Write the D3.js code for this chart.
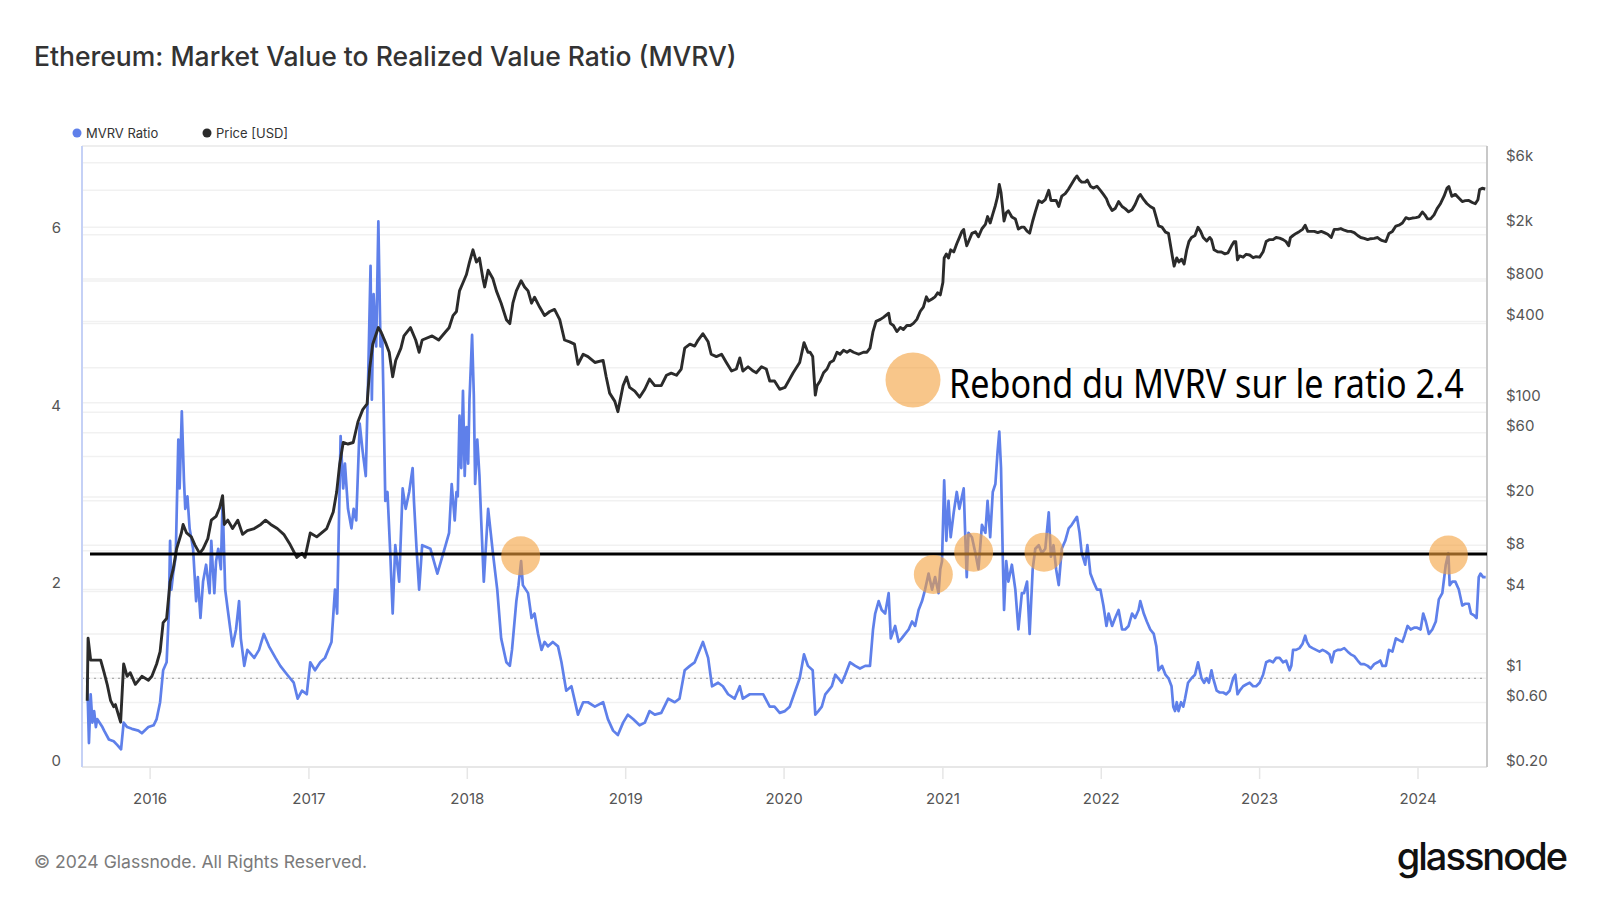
<!DOCTYPE html>
<html lang="en">
<head>
  <meta charset="UTF-8" />
  <title>Ethereum: Market Value to Realized Value Ratio (MVRV)</title>
  <script src="https://d3js.org/d3.v7.min.js"></script>
  <style>
    body {
      margin: 0;
      background: #fff;
      font-family: Inter, 'Noto Sans', sans-serif;
    }
    .tick-label {
      fill: #555;
      font-size: 15px;
    }
  </style>
</head>
<body>
<script>
  // MVRV ratio
  const mvrvSeries = [
    ["2015-08-09", 1.00], ["2015-08-13", 0.27], ["2015-08-17", 0.82], ["2015-08-21", 0.50], ["2015-08-25", 0.63],
    ["2015-08-29", 0.45], ["2015-09-01", 0.54], ["2015-09-13", 0.45], ["2015-09-17", 0.41], ["2015-09-28", 0.31],
    ["2015-10-09", 0.29], ["2015-10-17", 0.25], ["2015-10-26", 0.20], ["2015-11-01", 0.50], ["2015-11-09", 0.45],
    ["2015-11-20", 0.43], ["2015-12-05", 0.41], ["2015-12-13", 0.38], ["2015-12-28", 0.45], ["2016-01-09", 0.47],
    ["2016-01-16", 0.54], ["2016-01-24", 0.73], ["2016-01-31", 1.09], ["2016-02-08", 1.18], ["2016-02-13", 1.73],
    ["2016-02-16", 2.55], ["2016-02-19", 2.00], ["2016-02-23", 2.18], ["2016-02-29", 2.37], ["2016-03-06", 3.69],
    ["2016-03-09", 3.14], ["2016-03-14", 4.01], ["2016-03-19", 3.23], ["2016-03-22", 2.91], ["2016-03-27", 3.05],
    ["2016-04-01", 2.69], ["2016-04-09", 2.46], ["2016-04-16", 1.87], ["2016-04-20", 2.14], ["2016-04-26", 1.68],
    ["2016-05-02", 2.09], ["2016-05-09", 2.28], ["2016-05-17", 1.96], ["2016-05-21", 2.55], ["2016-05-24", 2.28],
    ["2016-05-28", 1.96], ["2016-06-01", 2.32], ["2016-06-06", 2.46], ["2016-06-12", 2.23], ["2016-06-16", 3.00],
    ["2016-06-22", 2.00], ["2016-06-28", 1.77], ["2016-07-09", 1.36], ["2016-07-17", 1.55], ["2016-07-24", 1.87],
    ["2016-07-28", 1.45], ["2016-08-05", 1.14], ["2016-08-12", 1.32], ["2016-08-28", 1.23], ["2016-09-08", 1.32],
    ["2016-09-19", 1.50], ["2016-10-01", 1.36], ["2016-10-16", 1.23], ["2016-10-27", 1.14], ["2016-11-12", 1.04],
    ["2016-11-27", 0.95], ["2016-12-06", 0.77], ["2016-12-16", 0.86], ["2016-12-27", 0.82], ["2017-01-04", 1.18],
    ["2017-01-15", 1.09], ["2017-01-27", 1.18], ["2017-02-07", 1.23], ["2017-02-22", 1.41], ["2017-03-02", 2.00],
    ["2017-03-07", 1.73], ["2017-03-15", 3.73], ["2017-03-21", 3.14], ["2017-03-25", 3.42], ["2017-04-01", 2.91],
    ["2017-04-09", 2.69], ["2017-04-14", 2.91], ["2017-04-20", 2.78], ["2017-04-28", 3.87], ["2017-05-05", 3.55],
    ["2017-05-12", 3.28], ["2017-05-17", 4.28], ["2017-05-23", 5.65], ["2017-05-26", 4.14], ["2017-05-30", 5.33],
    ["2017-06-05", 4.74], ["2017-06-10", 6.15], ["2017-06-15", 4.74], ["2017-06-19", 4.87], ["2017-06-22", 4.10],
    ["2017-06-26", 3.00], ["2017-07-01", 3.10], ["2017-07-07", 2.46], ["2017-07-13", 1.73], ["2017-07-19", 2.50],
    ["2017-07-28", 2.09], ["2017-08-05", 3.14], ["2017-08-12", 2.91], ["2017-08-20", 3.10], ["2017-08-28", 3.37],
    ["2017-08-31", 3.00], ["2017-09-06", 2.46], ["2017-09-12", 2.00], ["2017-09-19", 2.50], ["2017-10-08", 2.46],
    ["2017-10-24", 2.18], ["2017-11-12", 2.50], ["2017-11-20", 2.64], ["2017-11-26", 3.19], ["2017-12-03", 2.78],
    ["2017-12-07", 3.10], ["2017-12-10", 3.05], ["2017-12-14", 3.96], ["2017-12-18", 3.37], ["2017-12-22", 4.24],
    ["2017-12-26", 3.28], ["2017-12-30", 3.83], ["2018-01-03", 3.42], ["2018-01-06", 4.14], ["2018-01-12", 4.87],
    ["2018-01-16", 4.19], ["2018-01-19", 3.19], ["2018-01-24", 3.69], ["2018-01-29", 3.28], ["2018-02-02", 2.78],
    ["2018-02-08", 2.09], ["2018-02-18", 2.91], ["2018-02-24", 2.64], ["2018-03-01", 2.41], ["2018-03-11", 2.00],
    ["2018-03-20", 1.45], ["2018-04-01", 1.18], ["2018-04-09", 1.14], ["2018-04-14", 1.32], ["2018-04-24", 1.87],
    ["2018-04-29", 2.05], ["2018-05-05", 2.32], ["2018-05-09", 2.05], ["2018-05-21", 1.96], ["2018-05-29", 1.68],
    ["2018-06-05", 1.73], ["2018-06-13", 1.50], ["2018-06-21", 1.32], ["2018-06-28", 1.41], ["2018-07-06", 1.36],
    ["2018-07-17", 1.41], ["2018-07-29", 1.36], ["2018-08-06", 1.18], ["2018-08-17", 0.86], ["2018-08-29", 0.91],
    ["2018-09-13", 0.59], ["2018-09-25", 0.73], ["2018-10-06", 0.73], ["2018-10-22", 0.68], ["2018-11-10", 0.73],
    ["2018-11-21", 0.54], ["2018-12-03", 0.41], ["2018-12-14", 0.36], ["2018-12-26", 0.50], ["2019-01-06", 0.59],
    ["2019-01-18", 0.54], ["2019-02-02", 0.47], ["2019-02-14", 0.50], ["2019-02-25", 0.63], ["2019-03-09", 0.59],
    ["2019-03-24", 0.61], ["2019-04-09", 0.77], ["2019-04-24", 0.73], ["2019-05-05", 0.77], ["2019-05-17", 1.09],
    ["2019-05-29", 1.14], ["2019-06-09", 1.18], ["2019-06-28", 1.41], ["2019-07-10", 1.23], ["2019-07-19", 0.91],
    ["2019-08-02", 0.95], ["2019-08-13", 0.91], ["2019-08-25", 0.82], ["2019-09-09", 0.77], ["2019-09-21", 0.91],
    ["2019-09-28", 0.77], ["2019-10-14", 0.82], ["2019-10-29", 0.82], ["2019-11-14", 0.82], ["2019-11-29", 0.68],
    ["2019-12-10", 0.68], ["2019-12-22", 0.61], ["2020-01-03", 0.63], ["2020-01-14", 0.68], ["2020-01-24", 0.82],
    ["2020-02-06", 1.00], ["2020-02-16", 1.27], ["2020-02-25", 1.14], ["2020-03-07", 1.09], ["2020-03-13", 0.59],
    ["2020-03-20", 0.63], ["2020-03-28", 0.68], ["2020-04-05", 0.82], ["2020-04-12", 0.86], ["2020-04-20", 0.91],
    ["2020-04-28", 1.04], ["2020-05-05", 1.00], ["2020-05-13", 0.95], ["2020-05-21", 1.04], ["2020-06-01", 1.18],
    ["2020-06-13", 1.14], ["2020-06-24", 1.11], ["2020-07-06", 1.14], ["2020-07-17", 1.14], ["2020-07-24", 1.55],
    ["2020-07-29", 1.73], ["2020-08-06", 1.87], ["2020-08-13", 1.77], ["2020-08-21", 1.73], ["2020-08-29", 1.96],
    ["2020-09-03", 1.45], ["2020-09-13", 1.59], ["2020-09-21", 1.41], ["2020-09-28", 1.45], ["2020-10-06", 1.50],
    ["2020-10-14", 1.55], ["2020-10-22", 1.64], ["2020-10-29", 1.59], ["2020-11-06", 1.77], ["2020-11-14", 1.87],
    ["2020-11-21", 2.00], ["2020-11-29", 2.18], ["2020-12-07", 2.00], ["2020-12-14", 2.14], ["2020-12-22", 1.96],
    ["2020-12-26", 2.23], ["2020-12-30", 2.32], ["2021-01-04", 3.23], ["2021-01-09", 2.55], ["2021-01-14", 3.00],
    ["2021-01-19", 2.59], ["2021-01-26", 2.87], ["2021-02-02", 3.10], ["2021-02-08", 2.91], ["2021-02-14", 3.05],
    ["2021-02-18", 3.14], ["2021-02-21", 2.69], ["2021-02-25", 2.14], ["2021-03-01", 2.64], ["2021-03-09", 2.59],
    ["2021-03-17", 2.41], ["2021-03-24", 2.23], ["2021-04-01", 2.73], ["2021-04-09", 2.64], ["2021-04-14", 3.00],
    ["2021-04-20", 2.59], ["2021-04-26", 3.10], ["2021-05-02", 3.19], ["2021-05-07", 3.55], ["2021-05-11", 3.78],
    ["2021-05-15", 3.37], ["2021-05-19", 2.37], ["2021-05-22", 1.77], ["2021-05-27", 2.32], ["2021-06-01", 2.09],
    ["2021-06-09", 2.28], ["2021-06-17", 2.00], ["2021-06-24", 1.55], ["2021-07-02", 1.96], ["2021-07-07", 1.96],
    ["2021-07-14", 2.09], ["2021-07-20", 1.50], ["2021-07-27", 2.23], ["2021-08-02", 2.46], ["2021-08-10", 2.50],
    ["2021-08-17", 2.41], ["2021-08-25", 2.46], ["2021-09-02", 2.87], ["2021-09-07", 2.37], ["2021-09-13", 2.50],
    ["2021-09-19", 2.23], ["2021-09-25", 2.05], ["2021-10-02", 2.46], ["2021-10-10", 2.55], ["2021-10-18", 2.69],
    ["2021-10-25", 2.73], ["2021-11-06", 2.82], ["2021-11-12", 2.64], ["2021-11-17", 2.41], ["2021-11-25", 2.28],
    ["2021-11-30", 2.50], ["2021-12-07", 2.18], ["2021-12-14", 2.09], ["2021-12-22", 2.00], ["2021-12-30", 2.00],
    ["2022-01-06", 1.82], ["2022-01-13", 1.59], ["2022-01-18", 1.73], ["2022-01-26", 1.59], ["2022-02-02", 1.68],
    ["2022-02-10", 1.77], ["2022-02-18", 1.55], ["2022-02-25", 1.55], ["2022-03-05", 1.59], ["2022-03-13", 1.73],
    ["2022-03-20", 1.68], ["2022-03-28", 1.77], ["2022-04-01", 1.87], ["2022-04-09", 1.73], ["2022-04-16", 1.64],
    ["2022-04-24", 1.55], ["2022-05-02", 1.50], ["2022-05-08", 1.36], ["2022-05-13", 1.09], ["2022-05-21", 1.14],
    ["2022-05-29", 1.04], ["2022-06-05", 1.00], ["2022-06-12", 0.91], ["2022-06-16", 0.68], ["2022-06-20", 0.63],
    ["2022-06-24", 0.73], ["2022-06-28", 0.63], ["2022-07-04", 0.73], ["2022-07-09", 0.68], ["2022-07-13", 0.77],
    ["2022-07-20", 0.95], ["2022-07-28", 1.00], ["2022-08-05", 1.04], ["2022-08-12", 1.18], ["2022-08-16", 1.09],
    ["2022-08-20", 1.00], ["2022-08-26", 0.95], ["2022-09-01", 1.00], ["2022-09-06", 0.95], ["2022-09-12", 1.09],
    ["2022-09-16", 1.00], ["2022-09-24", 0.86], ["2022-10-01", 0.84], ["2022-10-09", 0.84], ["2022-10-16", 0.82],
    ["2022-10-24", 0.86], ["2022-11-01", 1.00], ["2022-11-06", 1.04], ["2022-11-11", 0.82], ["2022-11-16", 0.86],
    ["2022-11-24", 0.91], ["2022-12-01", 0.93], ["2022-12-09", 0.95], ["2022-12-17", 0.91], ["2022-12-24", 0.91],
    ["2023-01-01", 0.95], ["2023-01-09", 1.04], ["2023-01-16", 1.18], ["2023-01-24", 1.20], ["2023-02-01", 1.18],
    ["2023-02-08", 1.23], ["2023-02-16", 1.23], ["2023-02-24", 1.18], ["2023-03-03", 1.20], ["2023-03-11", 1.09],
    ["2023-03-15", 1.14], ["2023-03-19", 1.32], ["2023-03-26", 1.32], ["2023-04-03", 1.34], ["2023-04-10", 1.39],
    ["2023-04-16", 1.48], ["2023-04-20", 1.41], ["2023-04-26", 1.36], ["2023-05-03", 1.34], ["2023-05-11", 1.32],
    ["2023-05-19", 1.30], ["2023-05-26", 1.32], ["2023-06-03", 1.30], ["2023-06-11", 1.27], ["2023-06-16", 1.18],
    ["2023-06-22", 1.30], ["2023-06-30", 1.32], ["2023-07-07", 1.32], ["2023-07-15", 1.34], ["2023-07-23", 1.30],
    ["2023-07-30", 1.27], ["2023-08-07", 1.25], ["2023-08-15", 1.20], ["2023-08-22", 1.16], ["2023-08-30", 1.16],
    ["2023-09-07", 1.14], ["2023-09-14", 1.11], ["2023-09-22", 1.16], ["2023-09-30", 1.18], ["2023-10-06", 1.20],
    ["2023-10-11", 1.14], ["2023-10-19", 1.14], ["2023-10-26", 1.32], ["2023-11-03", 1.30], ["2023-11-11", 1.45],
    ["2023-11-18", 1.43], ["2023-11-26", 1.41], ["2023-12-01", 1.48], ["2023-12-08", 1.59], ["2023-12-15", 1.55],
    ["2023-12-23", 1.57], ["2023-12-30", 1.57], ["2024-01-07", 1.55], ["2024-01-13", 1.73], ["2024-01-19", 1.64],
    ["2024-01-26", 1.50], ["2024-02-03", 1.55], ["2024-02-11", 1.64], ["2024-02-18", 1.89], ["2024-02-26", 1.96],
    ["2024-03-05", 2.28], ["2024-03-11", 2.41], ["2024-03-14", 2.05], ["2024-03-20", 2.09], ["2024-03-27", 2.09],
    ["2024-04-04", 2.00], ["2024-04-12", 1.82], ["2024-04-19", 1.84], ["2024-04-27", 1.84], ["2024-05-02", 1.73],
    ["2024-05-09", 1.71], ["2024-05-15", 1.68], ["2024-05-20", 2.14], ["2024-05-24", 2.18], ["2024-05-30", 2.14],
    ["2024-06-05", 2.14]
  ];

  // ETH price in USD (right, log axis)
  const priceSeries = [
    ["2015-08-09", 0.62], ["2015-08-11", 1.80], ["2015-08-17", 1.24], ["2015-08-25", 1.24], ["2015-09-09", 1.24],
    ["2015-09-17", 1.00], ["2015-09-24", 0.82], ["2015-10-02", 0.62], ["2015-10-09", 0.56], ["2015-10-13", 0.58],
    ["2015-10-25", 0.43], ["2015-11-01", 1.16], ["2015-11-09", 0.94], ["2015-11-16", 1.00], ["2015-11-28", 0.82],
    ["2015-12-13", 0.94], ["2015-12-28", 0.88], ["2016-01-05", 0.94], ["2016-01-16", 1.16], ["2016-01-24", 1.43],
    ["2016-01-31", 2.35], ["2016-02-08", 2.52], ["2016-02-16", 4.72], ["2016-02-23", 5.82], ["2016-03-02", 8.26],
    ["2016-03-13", 10.85], ["2016-03-17", 12.55], ["2016-03-25", 10.85], ["2016-04-05", 10.15], ["2016-04-13", 8.86],
    ["2016-04-24", 7.66], ["2016-05-02", 8.26], ["2016-05-13", 9.85], ["2016-05-21", 13.5], ["2016-06-01", 14.4],
    ["2016-06-09", 16.6], ["2016-06-16", 20.5], ["2016-06-20", 12.55], ["2016-06-28", 13.5], ["2016-07-09", 11.7],
    ["2016-07-21", 13.5], ["2016-08-01", 10.6], ["2016-08-12", 11.3], ["2016-08-28", 11.7], ["2016-09-12", 12.55],
    ["2016-09-23", 13.5], ["2016-10-05", 12.55], ["2016-10-20", 11.7], ["2016-11-04", 10.6], ["2016-11-19", 8.86],
    ["2016-12-04", 7.15], ["2016-12-16", 7.66], ["2016-12-23", 7.15], ["2017-01-04", 10.85], ["2017-01-19", 10.15],
    ["2017-02-11", 11.7], ["2017-02-26", 15.5], ["2017-03-06", 21.9], ["2017-03-13", 35.4], ["2017-03-21", 50.8],
    ["2017-04-01", 49.5], ["2017-04-13", 50.8], ["2017-04-24", 72.4], ["2017-05-05", 89], ["2017-05-15", 98],
    ["2017-05-21", 179], ["2017-05-28", 272], ["2017-06-10", 361], ["2017-06-16", 336], ["2017-06-28", 272],
    ["2017-07-05", 237], ["2017-07-13", 156], ["2017-07-20", 206], ["2017-08-01", 254], ["2017-08-08", 313],
    ["2017-08-23", 361], ["2017-09-04", 292], ["2017-09-12", 237], ["2017-09-19", 292], ["2017-10-12", 313],
    ["2017-10-27", 292], ["2017-11-12", 336], ["2017-11-20", 360], ["2017-11-29", 443], ["2017-12-07", 475],
    ["2017-12-14", 675], ["2017-12-22", 775], ["2017-12-30", 893], ["2018-01-06", 1103], ["2018-01-14", 1360],
    ["2018-01-22", 1103], ["2018-01-29", 1183], ["2018-02-06", 830], ["2018-02-10", 722], ["2018-02-18", 960],
    ["2018-03-01", 830], ["2018-03-09", 675], ["2018-03-20", 547], ["2018-04-01", 413], ["2018-04-09", 386],
    ["2018-04-16", 547], ["2018-04-24", 675], ["2018-05-05", 803], ["2018-05-13", 722], ["2018-05-21", 675],
    ["2018-05-29", 547], ["2018-06-05", 606], ["2018-06-17", 510], ["2018-06-28", 443], ["2018-07-10", 475],
    ["2018-07-21", 492], ["2018-08-02", 413], ["2018-08-13", 292], ["2018-08-25", 283], ["2018-09-05", 272],
    ["2018-09-13", 193], ["2018-09-25", 229], ["2018-10-06", 220], ["2018-10-22", 199], ["2018-11-10", 206],
    ["2018-11-17", 156], ["2018-11-25", 118], ["2018-12-07", 102.5], ["2018-12-14", 86], ["2018-12-26", 134],
    ["2019-01-03", 155], ["2019-01-10", 130], ["2019-01-22", 122], ["2019-02-02", 110], ["2019-02-14", 126],
    ["2019-02-25", 150], ["2019-03-09", 134], ["2019-03-24", 134], ["2019-04-05", 160], ["2019-04-16", 166],
    ["2019-04-28", 160], ["2019-05-09", 178], ["2019-05-17", 254], ["2019-05-29", 272], ["2019-06-09", 263],
    ["2019-06-17", 292], ["2019-06-28", 325], ["2019-07-10", 283], ["2019-07-17", 229], ["2019-07-29", 220],
    ["2019-08-10", 229], ["2019-08-21", 199], ["2019-09-02", 172], ["2019-09-13", 178], ["2019-09-21", 215],
    ["2019-09-28", 172], ["2019-10-10", 185], ["2019-10-22", 172], ["2019-10-29", 167], ["2019-11-10", 185],
    ["2019-11-21", 178], ["2019-11-29", 145], ["2019-12-10", 145], ["2019-12-22", 126], ["2020-01-03", 130],
    ["2020-01-14", 150], ["2020-01-22", 167], ["2020-02-06", 199], ["2020-02-16", 279], ["2020-02-25", 237],
    ["2020-03-01", 237], ["2020-03-07", 220], ["2020-03-13", 114], ["2020-03-17", 134], ["2020-03-24", 145],
    ["2020-04-01", 167], ["2020-04-09", 178], ["2020-04-16", 199], ["2020-04-24", 206], ["2020-05-02", 237],
    ["2020-05-09", 229], ["2020-05-17", 245], ["2020-05-25", 237], ["2020-06-01", 245], ["2020-06-09", 237],
    ["2020-06-21", 229], ["2020-07-02", 237], ["2020-07-10", 237], ["2020-07-17", 254], ["2020-07-24", 337],
    ["2020-07-31", 401], ["2020-08-10", 415], ["2020-08-17", 430], ["2020-08-29", 461], ["2020-09-02", 388],
    ["2020-09-09", 374], ["2020-09-17", 337], ["2020-09-25", 362], ["2020-10-02", 349], ["2020-10-10", 374],
    ["2020-10-18", 374], ["2020-10-25", 388], ["2020-11-02", 415], ["2020-11-10", 477], ["2020-11-17", 512],
    ["2020-11-24", 610], ["2020-11-29", 568], ["2020-12-07", 588], ["2020-12-14", 610], ["2020-12-20", 653],
    ["2020-12-26", 631], ["2021-01-01", 778], ["2021-01-04", 1183], ["2021-01-09", 1268], ["2021-01-14", 1183],
    ["2021-01-19", 1360], ["2021-01-26", 1313], ["2021-02-02", 1509], ["2021-02-08", 1677], ["2021-02-14", 1862],
    ["2021-02-18", 1927], ["2021-02-21", 1677], ["2021-02-25", 1457], ["2021-03-01", 1562], ["2021-03-09", 1800],
    ["2021-03-17", 1850], ["2021-03-24", 1700], ["2021-04-01", 1950], ["2021-04-09", 2100], ["2021-04-14", 2400],
    ["2021-04-20", 2150], ["2021-04-26", 2500], ["2021-05-02", 2900], ["2021-05-07", 3370], ["2021-05-11", 4150],
    ["2021-05-15", 3615], ["2021-05-19", 2740], ["2021-05-22", 2225], ["2021-05-27", 2555], ["2021-06-01", 2645],
    ["2021-06-09", 2385], ["2021-06-17", 2305], ["2021-06-24", 1937], ["2021-07-02", 2005], ["2021-07-07", 2005],
    ["2021-07-14", 1872], ["2021-07-20", 1808], ["2021-07-27", 2225], ["2021-08-02", 2600], ["2021-08-10", 3150],
    ["2021-08-17", 3050], ["2021-08-25", 3200], ["2021-09-02", 3760], ["2021-09-07", 3160], ["2021-09-13", 3160],
    ["2021-09-19", 3160], ["2021-09-25", 2850], ["2021-10-02", 3400], ["2021-10-10", 3550], ["2021-10-18", 3850],
    ["2021-10-25", 4200], ["2021-11-02", 4630], ["2021-11-06", 4800], ["2021-11-12", 4470], ["2021-11-17", 4320],
    ["2021-11-25", 4320], ["2021-11-30", 4470], ["2021-12-07", 4030], ["2021-12-14", 3900], ["2021-12-22", 4030],
    ["2021-12-30", 3750], ["2022-01-06", 3500], ["2022-01-13", 3250], ["2022-01-18", 2950], ["2022-01-26", 2660],
    ["2022-02-02", 2750], ["2022-02-10", 3100], ["2022-02-18", 2850], ["2022-02-25", 2750], ["2022-03-05", 2600],
    ["2022-03-13", 2700], ["2022-03-20", 2950], ["2022-03-28", 3385], ["2022-04-01", 3500], ["2022-04-09", 3200],
    ["2022-04-16", 3000], ["2022-04-24", 2850], ["2022-05-02", 2750], ["2022-05-08", 2350], ["2022-05-13", 2050],
    ["2022-05-21", 2005], ["2022-05-29", 1840], ["2022-06-05", 1800], ["2022-06-14", 1210], ["2022-06-18", 1030],
    ["2022-06-24", 1185], ["2022-06-29", 1105], ["2022-07-05", 1160], ["2022-07-11", 1067], ["2022-07-17", 1360],
    ["2022-07-22", 1565], ["2022-07-28", 1678], ["2022-08-05", 1737], ["2022-08-12", 1998], ["2022-08-18", 1863],
    ["2022-08-24", 1678], ["2022-09-01", 1580], ["2022-09-08", 1680], ["2022-09-12", 1620], ["2022-09-18", 1360],
    ["2022-09-26", 1315], ["2022-10-05", 1310], ["2022-10-13", 1270], ["2022-10-20", 1290], ["2022-10-28", 1450],
    ["2022-11-03", 1560], ["2022-11-07", 1565], ["2022-11-11", 1145], ["2022-11-16", 1226], ["2022-11-24", 1200],
    ["2022-12-01", 1260], ["2022-12-09", 1245], ["2022-12-17", 1190], ["2022-12-24", 1210], ["2023-01-01", 1200],
    ["2023-01-09", 1315], ["2023-01-16", 1565], ["2023-01-24", 1620], ["2023-02-01", 1620], ["2023-02-08", 1678],
    ["2023-02-16", 1660], ["2023-02-24", 1620], ["2023-03-03", 1565], ["2023-03-09", 1460], ["2023-03-13", 1678],
    ["2023-03-19", 1737], ["2023-03-26", 1800], ["2023-04-03", 1863], ["2023-04-10", 1930], ["2023-04-16", 2070],
    ["2023-04-22", 1863], ["2023-04-30", 1863], ["2023-05-07", 1863], ["2023-05-15", 1825], ["2023-05-23", 1863],
    ["2023-05-30", 1825], ["2023-06-07", 1775], ["2023-06-15", 1678], ["2023-06-22", 1930], ["2023-06-30", 1930],
    ["2023-07-07", 1955], ["2023-07-15", 1900], ["2023-07-23", 1863], ["2023-07-30", 1863], ["2023-08-07", 1825],
    ["2023-08-15", 1737], ["2023-08-22", 1678], ["2023-08-30", 1655], ["2023-09-07", 1620], ["2023-09-14", 1645],
    ["2023-09-22", 1655], ["2023-09-30", 1678], ["2023-10-06", 1620], ["2023-10-11", 1590], ["2023-10-19", 1565],
    ["2023-10-26", 1800], ["2023-11-03", 1863], ["2023-11-11", 2040], ["2023-11-18", 2070], ["2023-11-26", 2150],
    ["2023-12-04", 2355], ["2023-12-11", 2305], ["2023-12-19", 2340], ["2023-12-27", 2355], ["2024-01-03", 2385],
    ["2024-01-11", 2595], ["2024-01-17", 2470], ["2024-01-23", 2305], ["2024-01-30", 2305], ["2024-02-07", 2470],
    ["2024-02-14", 2750], ["2024-02-22", 3000], ["2024-03-01", 3400], ["2024-03-08", 3900], ["2024-03-12", 4010],
    ["2024-03-19", 3390], ["2024-03-27", 3505], ["2024-04-04", 3300], ["2024-04-12", 3100], ["2024-04-19", 3150],
    ["2024-04-27", 3160], ["2024-05-05", 3050], ["2024-05-12", 2990], ["2024-05-18", 3200], ["2024-05-22", 3800],
    ["2024-05-28", 3890], ["2024-06-04", 3840]
  ];

  const mvrvTicks = [0, 2, 4, 6];
  const mvrvGrid = [0.5, 1, 1.5, 2, 2.5, 3, 3.5, 4, 4.5, 5, 5.5, 6, 6.5];
  const priceTicks = [0.2, 0.6, 1, 4, 8, 20, 60, 100, 400, 800, 2000, 6000];
  const priceTickLabels = ["$0.20", "$0.60", "$1", "$4", "$8", "$20", "$60", "$100", "$400", "$800", "$2k", "$6k"];
  const yearTicks = [2016, 2017, 2018, 2019, 2020, 2021, 2022, 2023, 2024];

  // annotation: horizontal ratio line and the bounce markers
  const ratioLevel = 2.4;
  const bounceDates = ["2018-05-04", "2020-12-10", "2021-03-13", "2021-08-22", "2024-03-11"];
  const bounceLevels = [2.38, 2.17, 2.42, 2.42, 2.39];
  const noteText = "Rebond du MVRV sur le ratio 2.4";

  const width = 1600, height = 900;
  const plot = { left: 82, right: 1487, top: 146, bottom: 767 };
  const blue = "#5f80ea", dark = "#2b2b2b", orange = "#f4a03c";

  const parse = d3.utcParse("%Y-%m-%d");

  const x = d3.scaleUtc()
    .domain([parse("2015-07-28"), parse("2024-06-08")])
    .range([plot.left, plot.right]);
  const yL = d3.scaleLinear().domain([0, 7]).range([plot.bottom, plot.top]);
  const yR = d3.scaleLog().domain([0.2, 8000]).range([plot.bottom, plot.top]);

  const svg = d3.select("body").append("svg")
    .attr("width", width)
    .attr("height", height)
    .style("display", "block");

  svg.append("defs").append("clipPath").attr("id", "plot-clip")
    .append("rect")
    .attr("x", plot.left).attr("y", plot.top)
    .attr("width", plot.right - plot.left).attr("height", plot.bottom - plot.top);

  // Title
  svg.append("text")
    .attr("x", 34).attr("y", 66)
    .attr("fill", "#333")
    .style("font-size", "26.5px")
    .style("font-weight", 500)
    .text("Ethereum: Market Value to Realized Value Ratio (MVRV)");

  // Legend
  const legend = [
    { label: "MVRV Ratio", color: blue, x: 77 },
    { label: "Price [USD]", color: dark, x: 207 }
  ];
  legend.forEach(d => {
    svg.append("circle").attr("cx", d.x).attr("cy", 133).attr("r", 4.5).attr("fill", d.color);
    svg.append("text")
      .attr("x", d.x + 9).attr("y", 133)
      .attr("dominant-baseline", "central")
      .attr("fill", "#333")
      .style("font-size", "13px")
      .text(d.label);
  });

  // Grid lines (both axes)
  const grid = svg.append("g");
  grid.selectAll(".gl").data(mvrvGrid).enter().append("line")
    .attr("x1", plot.left).attr("x2", plot.right)
    .attr("y1", d => yL(d)).attr("y2", d => yL(d))
    .attr("stroke", "#f1f1f1").attr("stroke-width", 1.5);
  grid.selectAll(".gr").data(priceTicks).enter().append("line")
    .attr("x1", plot.left).attr("x2", plot.right)
    .attr("y1", d => yR(d)).attr("y2", d => yR(d))
    .attr("stroke", "#f1f1f1").attr("stroke-width", 1.5);

  // frame
  svg.append("line")
    .attr("x1", plot.left).attr("x2", plot.right)
    .attr("y1", plot.top).attr("y2", plot.top)
    .attr("stroke", "#e8e8e8").attr("stroke-width", 1.5);
  svg.append("line")
    .attr("x1", plot.left).attr("x2", plot.right)
    .attr("y1", plot.bottom).attr("y2", plot.bottom)
    .attr("stroke", "#e3e3e3").attr("stroke-width", 1.5);

  // x axis ticks + labels
  yearTicks.forEach(yr => {
    const xp = x(parse(`${yr}-01-01`));
    svg.append("line")
      .attr("x1", xp).attr("x2", xp)
      .attr("y1", plot.bottom).attr("y2", plot.bottom + 12)
      .attr("stroke", "#e6e6e6").attr("stroke-width", 1.5);
    svg.append("text")
      .attr("class", "tick-label")
      .attr("x", xp).attr("y", 798)
      .attr("text-anchor", "middle")
      .attr("dominant-baseline", "central")
      .text(yr);
  });

  // left axis labels
  svg.selectAll(".yl").data(mvrvTicks).enter().append("text")
    .attr("class", "tick-label")
    .attr("x", 61).attr("y", d => yL(d) - 7)
    .attr("text-anchor", "end")
    .attr("dominant-baseline", "central")
    .text(d => d);

  // right axis labels
  svg.selectAll(".yr").data(priceTicks).enter().append("text")
    .attr("class", "tick-label")
    .attr("x", 1506).attr("y", d => yR(d) - 7)
    .attr("dominant-baseline", "central")
    .text((d, i) => priceTickLabels[i]);

  // MVRV = 1 dotted reference
  svg.append("line")
    .attr("x1", plot.left).attr("x2", plot.right)
    .attr("y1", yL(1)).attr("y2", yL(1))
    .attr("stroke", "#9a9a9a").attr("stroke-width", 1)
    .attr("stroke-dasharray", "2,4");

  const chart = svg.append("g").attr("clip-path", "url(#plot-clip)");

  const mvrvLine = d3.line()
    .x(d => x(parse(d[0])))
    .y(d => yL(d[1]));
  const priceLine = d3.line()
    .x(d => x(parse(d[0])))
    .y(d => yR(d[1]));

  chart.append("path")
    .datum(mvrvSeries)
    .attr("d", mvrvLine)
    .attr("fill", "none")
    .attr("stroke", blue)
    .attr("stroke-width", 2.7)
    .attr("stroke-linejoin", "round");

  chart.append("path")
    .datum(priceSeries)
    .attr("d", priceLine)
    .attr("fill", "none")
    .attr("stroke", dark)
    .attr("stroke-width", 2.9)
    .attr("stroke-linejoin", "round");

  // axis lines
  svg.append("line")
    .attr("x1", plot.left).attr("x2", plot.left)
    .attr("y1", plot.top).attr("y2", plot.bottom)
    .attr("stroke", "#c5d1f6").attr("stroke-width", 2);
  svg.append("line")
    .attr("x1", plot.right).attr("x2", plot.right)
    .attr("y1", plot.top).attr("y2", plot.bottom)
    .attr("stroke", "#c8c8c8").attr("stroke-width", 2);

  // 2.4 ratio line
  svg.append("line")
    .attr("x1", plot.left + 8).attr("x2", plot.right)
    .attr("y1", yL(ratioLevel)).attr("y2", yL(ratioLevel))
    .attr("stroke", "#000").attr("stroke-width", 3);

  // bounce markers
  svg.selectAll(".bounce").data(bounceDates).enter().append("circle")
    .attr("cx", d => x(parse(d)))
    .attr("cy", (d, i) => yL(bounceLevels[i]))
    .attr("r", 19.5)
    .attr("fill", orange)
    .attr("fill-opacity", 0.6);

  // annotation key
  svg.append("circle")
    .attr("cx", 913).attr("cy", 380).attr("r", 27.5)
    .attr("fill", orange).attr("fill-opacity", 0.6);
  const note = svg.append("text")
    .attr("dominant-baseline", "central")
    .attr("fill", "#000")
    .style("font-family", "'Noto Sans', sans-serif")
    .style("font-size", "40px")
    .text(noteText);
  // squeeze horizontally so it spans the same width as the reference
  const noteW = note.node().getComputedTextLength();
  note.attr("transform", `translate(949,382) scale(${515 / noteW},1)`);

  // footer
  svg.append("text")
    .attr("x", 34).attr("y", 861)
    .attr("dominant-baseline", "central")
    .attr("fill", "#7a7a7a")
    .style("font-size", "17.6px")
    .text("© 2024 Glassnode. All Rights Reserved.");
  svg.append("text")
    .attr("x", 1566).attr("y", 870)
    .attr("text-anchor", "end")
    .attr("fill", "#111")
    .style("font-size", "38px")
    .style("font-weight", 500)
    .style("letter-spacing", "-2px")
    .text("glassnode");
</script>
</body>
</html>
